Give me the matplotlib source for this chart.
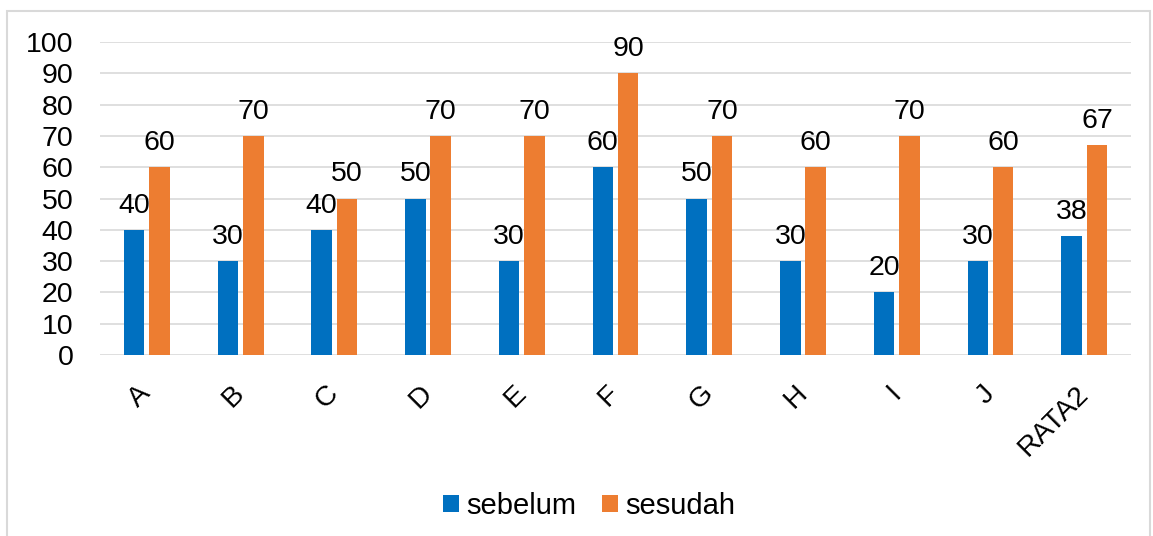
import numpy as np
import matplotlib
matplotlib.use('Agg')
from matplotlib import pyplot as plt
from matplotlib.patches import Rectangle

categories = ['A', 'B', 'C', 'D', 'E', 'F', 'G', 'H', 'I', 'J', 'RATA2']
sebelum = [40, 30, 40, 50, 30, 60, 50, 30, 20, 30, 38]
sesudah = [60, 70, 50, 70, 70, 90, 70, 60, 70, 60, 67]

BLUE = '#0070C0'
ORANGE = '#ED7D31'
FS = 20.5

plt.rcParams['font.family'] = ['Liberation Sans', 'DejaVu Sans']

fig = plt.figure(figsize=(11.53, 5.36), dpi=100)
ax = fig.add_axes([0.0867, 0.3377, 0.8943, 0.5839])

x = np.arange(len(categories))
w = 0.22
off = 0.135
b1 = ax.bar(x - off, sebelum, w, color=BLUE, zorder=3)
b2 = ax.bar(x + off, sesudah, w, color=ORANGE, zorder=3)
for bars in (b1, b2):
    ax.bar_label(bars, labels=[str(v) for v in bars.datavalues], padding=8,
                 fontsize=FS, zorder=4)

ax.set_xlim(-0.5, len(categories) - 0.5)
ax.set_ylim(0, 100)
ax.set_yticks(range(0, 101, 10))
ax.yaxis.grid(True, color='#D9D9D9', linewidth=1.2, zorder=0)
ax.set_axisbelow(True)
for s in ax.spines.values():
    s.set_visible(False)
ax.tick_params(axis='both', length=0, labelsize=FS)
ax.tick_params(axis='y', pad=19)
ax.tick_params(axis='x', pad=25)
ax.set_xticks(x)
ax.set_xticklabels(categories, rotation=45, ha='right', va='center',
                   rotation_mode='anchor')

leg = ax.legend([b1, b2], ['sebelum', 'sesudah'], loc='center',
                bbox_to_anchor=(589 / 1153, (536 - 506) / 536), bbox_transform=fig.transFigure,
                ncol=2, frameon=False, fontsize=21, handlelength=0.55,
                handleheight=0.55, handletextpad=0.25, columnspacing=0.9,
                borderpad=0)

# chart border
fig.patches.append(Rectangle((7 / 1153, -0.01), 1143 / 1153, 1 - 11 / 536 + 0.01,
                             transform=fig.transFigure, fill=False,
                             edgecolor='#D9D9D9', linewidth=1.5))

fig.savefig('out.png', dpi=100)
